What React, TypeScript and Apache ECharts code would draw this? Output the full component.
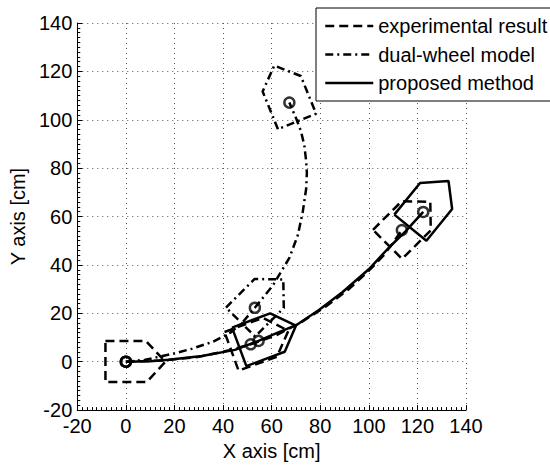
import React, { useEffect, useRef } from "react";
import * as echarts from "echarts";

// ---- data (cm) ----
const xTicks = { min: -20, max: 140, step: 20 };
const yTicks = { min: -20, max: 140, step: 20 };

const seriesNames = ["experimental result", "dual-wheel model", "proposed method"];

// trajectories
const experimentalPath: [number, number][] = [
  [0, 0], [15, 0.5], [30, 2], [42, 4.6], [51.4, 7.2], [62, 11], [72, 16.2],
  [82, 22.6], [92, 30.2], [100, 37.6], [106, 43.8], [110, 49.2], [113.6, 54.4],
];
const dualWheelPath: [number, number][] = [
  [0, 0], [8, 0.8], [19, 3.2], [27, 5.3], [36, 8.3], [43, 12], [48, 16.2],
  [53.1, 22.3], [60.5, 31.5], [67.3, 42.9], [70.8, 52.4], [72.8, 61.9],
  [74.2, 71.4], [74.5, 78], [74.2, 83], [73.5, 89.1], [72.1, 95.2],
  [70.1, 100.5], [67.3, 107.1],
];
const proposedPath: [number, number][] = [
  [0, 0], [10, 0.2], [17.7, 0.8], [31.3, 2.4], [44.9, 4.9], [54.6, 8.6],
  [62, 11.8], [70.1, 15.1], [79.6, 21.5], [89.1, 28.7], [100, 38.2],
  [108.2, 47.1], [115, 53.8], [122.4, 61.9],
];

// robot outlines (pentagons) at the recorded poses
const experimentalShapes: [number, number][][] = [
  [[-8.4, 8.6], [8.2, 8.6], [16.3, 0], [8.6, -8.4], [-8.4, -8.4], [-8.4, 8.6]],
  [[40.6, 12.3], [56.4, 18.1], [66.9, 12.8], [62.2, 2.1], [46.4, -3.7], [40.6, 12.3]],
  [[101.7, 54.5], [113.5, 66.3], [125.3, 66.1], [125.5, 54.3], [113.7, 42.5], [101.7, 54.5]],
];
const dualWheelShapes: [number, number][][] = [
  [[41.2, 22.4], [53, 34.2], [64.8, 34], [65, 22.2], [53.2, 10.4], [41.2, 22.4]],
  [[62.6, 96.1], [56.3, 111.7], [61.1, 122.4], [72, 118.1], [78.3, 102.5], [62.6, 96.1]],
];
const proposedShapes: [number, number][][] = [
  [[43.7, 14.1], [59.4, 20], [70, 14.9], [65.4, 4.1], [49.6, -1.8], [43.7, 14.1]],
  [[110.5, 60.8], [121.1, 73.9], [132.8, 74.7], [134.3, 63.1], [123.7, 50], [110.5, 60.8]],
];

// pose centres (circles)
const experimentalCentres: [number, number][] = [[0, 0], [51.4, 7.2], [113.6, 54.4]];
const dualWheelCentres: [number, number][] = [[0, 0], [53.1, 22.3], [67.3, 107.1]];
const proposedCentres: [number, number][] = [[0, 0], [54.6, 8.6], [122.4, 61.9]];

const FONT = "'Liberation Sans', Arial, Helvetica, sans-serif";
const FS = 20;
const LW = 2.5;
const dashStyles: Record<string, any> = {
  "experimental result": [9, 5],
  "dual-wheel model": [8, 4, 2, 4],
  "proposed method": "solid",
};

function lineSeries(name: string, data: [number, number][], z: number) {
  return {
    type: "line",
    name,
    data,
    symbol: "none",
    smooth: false,
    z,
    silent: true,
    lineStyle: { color: "#000", width: LW, type: dashStyles[name] },
    itemStyle: { color: "#000" },
  };
}

function circleSeries(name: string, data: [number, number][], z: number) {
  return {
    type: "scatter",
    name,
    data,
    symbol: "circle",
    symbolSize: 10,
    z,
    silent: true,
    itemStyle: { color: "rgba(0,0,0,0)", borderColor: "#000", borderWidth: LW },
  };
}

function axis(name: string, ticks: { min: number; max: number; step: number }, isY: boolean) {
  return {
    type: "value",
    min: ticks.min,
    max: ticks.max,
    interval: ticks.step,
    name,
    nameLocation: "middle",
    nameGap: isY ? 49 : 28,
    nameRotate: isY ? 90 : 0,
    nameTextStyle: { fontSize: FS, color: "#000", fontFamily: FONT },
    axisLine: { show: true, onZero: false, lineStyle: { color: "#000", width: 1 } },
    axisTick: { show: true, inside: true, length: 5, lineStyle: { color: "#000", width: 1 } },
    minorTick: { show: true, splitNumber: 10, length: 3, lineStyle: { color: "#000", width: 1 } },
    splitLine: { show: true, lineStyle: { color: "#555", width: 1, type: [1, 4] } },
    axisLabel: { fontSize: FS, color: "#000", fontFamily: FONT, margin: isY ? 5 : 6 },
  };
}

export default function App() {
  const ref = useRef<HTMLDivElement>(null);
  useEffect(() => {
    if (!ref.current) return;
    const chart = echarts.init(ref.current, null, { renderer: "svg" });
    const series: any[] = [
      lineSeries(seriesNames[0], experimentalPath, 3),
      lineSeries(seriesNames[1], dualWheelPath, 3),
      lineSeries(seriesNames[2], proposedPath, 4),
      ...experimentalShapes.map((s) => lineSeries(seriesNames[0], s, 3)),
      ...dualWheelShapes.map((s) => lineSeries(seriesNames[1], s, 3)),
      ...proposedShapes.map((s) => lineSeries(seriesNames[2], s, 4)),
      circleSeries(seriesNames[0], experimentalCentres, 5),
      circleSeries(seriesNames[1], dualWheelCentres, 5),
      circleSeries(seriesNames[2], proposedCentres, 5),
    ];
    chart.setOption({
      animation: false,
      backgroundColor: "#fff",
      textStyle: { fontFamily: FONT },
      grid: { left: 75, top: 23, width: 391, height: 391, containLabel: false },
      xAxis: axis("X axis [cm]", xTicks, false),
      yAxis: axis("Y axis [cm]", yTicks, true),
      legend: {
        data: seriesNames,
        orient: "vertical",
        left: 316,
        top: 8,
        backgroundColor: "#fff",
        borderColor: "#000",
        borderWidth: 1,
        borderRadius: 0,
        padding: [8, 6, 8, 8],
        itemWidth: 48,
        itemHeight: 18,
        itemGap: 8.5,
        selectedMode: false,
        itemStyle: { opacity: 0 },
        lineStyle: { width: LW },
        textStyle: { fontSize: FS, color: "#000", fontFamily: FONT },
      },
      series,
    });
    return () => chart.dispose();
  }, []);
  return (
    <div
      ref={ref}
      style={{ position: "fixed", left: 0, top: 0, width: 550, height: 466, background: "#fff" }}
    />
  );
}
